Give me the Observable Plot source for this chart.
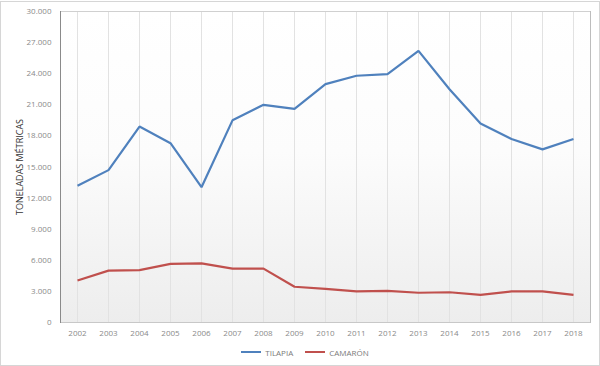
<!DOCTYPE html>
<html>
<head>
<meta charset="utf-8">
<script src="https://cdn.jsdelivr.net/npm/d3@7"></script>
<script src="https://cdn.jsdelivr.net/npm/@observablehq/plot@0.6"></script>
<style>
  html, body { margin: 0; padding: 0; background: #fff; }
  #wrap { position: relative; width: 600px; height: 366px; overflow: hidden; font-family: "Open Sans", sans-serif; }
  #border { position: absolute; left: 0; top: 1px; width: 598px; height: 363px; border: 1px solid #d6d6d6; pointer-events: none; }
  #legend { height: 24px; display: flex; justify-content: center; align-items: center; gap: 12px; font-size: 8px; color: #7a7a7a; margin-left: 10px; }
  .item { display: flex; align-items: center; gap: 4px; }
  .sw { width: 20px; height: 2px; }
</style>
</head>
<body>
<div id="wrap">
  <div id="chart"></div>
  <div id="legend"></div>
  <div id="border"></div>
</div>
<script>
const years = [2002,2003,2004,2005,2006,2007,2008,2009,2010,2011,2012,2013,2014,2015,2016,2017,2018];
const tilapia = [13200,14700,18900,17300,13050,19500,21000,20600,23000,23800,23950,26200,22500,19200,17700,16700,17700];
const camaron = [4050,5000,5050,5650,5700,5200,5200,3450,3250,3000,3050,2870,2920,2670,3000,3000,2670];
const seriesNames = ["TILAPIA","CAMARÓN"];
const seriesColors = ["#4f81bd","#c0504d"];
const yTicks = [0,3000,6000,9000,12000,15000,18000,21000,24000,27000,30000];

const data = [];
years.forEach((y,i) => {
  data.push({year: String(y), value: tilapia[i], serie: seriesNames[0]});
  data.push({year: String(y), value: camaron[i], serie: seriesNames[1]});
});

const fmt = d3.formatLocale({decimal: ",", thousands: ".", grouping: [3], currency: ["", ""]}).format(",");

const chart = Plot.plot({
  width: 600,
  height: 340,
  marginLeft: 60,
  marginRight: 10,
  marginTop: 11,
  marginBottom: 18,
  style: {fontFamily: "Open Sans, sans-serif", fontSize: "8px", background: "transparent"},
  x: {type: "point", domain: years.map(String), padding: 0.5, label: null},
  y: {domain: [0, 30000], label: null},
  color: {domain: seriesNames, range: seriesColors},
  marks: [
    Plot.frame({fill: "url(#bgGrad)", stroke: "none"}),
    Plot.ruleX(years.map(String), {stroke: "#e2e2e2", strokeWidth: 1}),
    Plot.ruleY([30000], {stroke: "#d0d0d0"}),
    Plot.ruleY([0], {stroke: "#c8c8c8"}),
    Plot.frame({anchor: "right", stroke: "#bdbdbd"}),
    Plot.frame({anchor: "left", stroke: "#8a8a8a"}),
    Plot.axisY({ticks: yTicks, tickFormat: fmt, tickSize: 0, tickPadding: 9, fill: "#8a8a8a", fontSize: 8,
      label: "TONELADAS MÉTRICAS", labelAnchor: "center", labelArrow: "none", labelOffset: 44}),
    Plot.axisX({tickSize: 0, tickPadding: 8, fill: "#8a8a8a", fontSize: 8, label: null}),
    Plot.line(data, {x: "year", y: "value", z: "serie", stroke: "serie", strokeWidth: 2.2, strokeLinejoin: "miter", strokeLinecap: "butt"})
  ]
});

const defs = d3.select(chart).insert("defs", ":first-child");
const g = defs.append("linearGradient").attr("id","bgGrad").attr("x1",0).attr("y1",0).attr("x2",0).attr("y2",1);
g.append("stop").attr("offset","0%").attr("stop-color","#ffffff");
g.append("stop").attr("offset","45%").attr("stop-color","#fcfcfc");
g.append("stop").attr("offset","100%").attr("stop-color","#ededed");

d3.select(chart).selectAll("g[aria-label='y-axis label'] text").attr("fill", "#333").style("font-size", "9px");

document.getElementById("chart").appendChild(chart);

const legend = d3.select("#legend");
seriesNames.forEach((n,i) => {
  const it = legend.append("div").attr("class","item");
  it.append("div").attr("class","sw").style("background", seriesColors[i]);
  it.append("span").text(n);
});
</script>
</body>
</html>
